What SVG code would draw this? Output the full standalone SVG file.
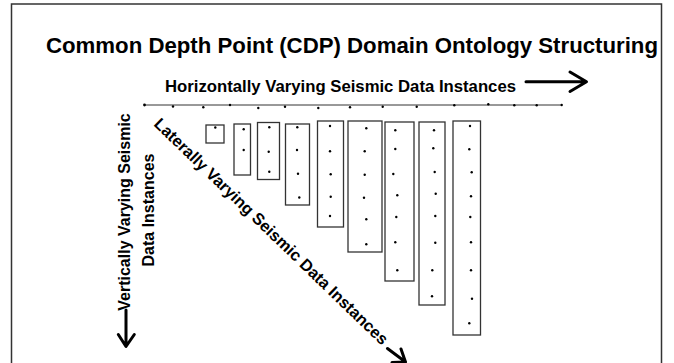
<svg xmlns="http://www.w3.org/2000/svg" width="674" height="363" viewBox="0 0 674 363">
<style>
.t{font-family:"Liberation Sans",Arial,sans-serif;font-weight:bold;fill:#000}
.box{fill:none;stroke:#333;stroke-width:1.3}
.dot{fill:#000}
.arr{fill:none;stroke:#000;stroke-width:3;stroke-linecap:round;stroke-linejoin:round}
</style>
<rect width="674" height="363" fill="#fff"/>
<rect x="11.5" y="4" width="650" height="380" fill="none" stroke="#333" stroke-width="1.5"/>
<g id="title"><text class="t" x="46" y="53" font-size="22" textLength="612" lengthAdjust="spacingAndGlyphs">Common Depth Point (CDP) Domain Ontology Structuring</text></g>
<g id="horizontal-label">
<text class="t" x="165" y="92" font-size="16.5" textLength="351" lengthAdjust="spacingAndGlyphs">Horizontally Varying Seismic Data Instances</text>
</g>
<g id="vertical-label">
<text class="t" font-size="16" text-anchor="middle" transform="translate(130,212) rotate(-90)">Vertically Varying Seismic</text>
<text class="t" font-size="16" text-anchor="middle" transform="translate(153.5,210) rotate(-90)">Data Instances</text>
</g>
<g id="lateral-label">
<text class="t" font-size="16.4" transform="translate(153,125) rotate(44)">Laterally Varying Seismic Data Instances</text>
</g>
<g id="connectors">
<path class="arr" d="M526 81.7H586M570 72L586.5 81.7L570 91.5"/>
<path class="arr" d="M126 310V346M118.3 334.5L126 346.5L134.3 334.5"/>
<path class="arr" d="M387.5 348.5L405.5 362M392 362.5L405.5 362L401 349"/>
<line x1="144" y1="105" x2="562" y2="105" stroke="#333" stroke-width="1"/>
</g>
<g id="axis-dots" class="dot">
<circle cx="144.5" cy="105" r="1.4"/><circle cx="173" cy="106.5" r="1.2"/><circle cx="203.3" cy="107.3" r="1.2"/><circle cx="230" cy="105" r="1.2"/><circle cx="258.3" cy="108" r="1.2"/><circle cx="285" cy="106.7" r="1.2"/><circle cx="318.3" cy="108" r="1.2"/><circle cx="350" cy="107.3" r="1.2"/><circle cx="382.7" cy="106.7" r="1.2"/><circle cx="416.7" cy="106.7" r="1.2"/><circle cx="454.3" cy="105.3" r="1.2"/><circle cx="488.3" cy="104.3" r="1.2"/><circle cx="514.3" cy="105.3" r="1.2"/><circle cx="536.7" cy="105.3" r="1.2"/><circle cx="561.7" cy="105" r="1.2"/>
</g>
<g id="box1"><rect class="box" x="206" y="125" width="18" height="18"/><circle class="dot" cx="215.3" cy="127.5" r="1.2"/></g>
<g id="box2"><rect class="box" x="234" y="124" width="16.5" height="51"/><circle class="dot" cx="243.7" cy="129.3" r="1.2"/><circle class="dot" cx="243.7" cy="150" r="1.2"/></g>
<g id="box3"><rect class="box" x="257.5" y="122.5" width="22" height="57"/><circle class="dot" cx="269.3" cy="127.3" r="1.2"/><circle class="dot" cx="268.7" cy="151.7" r="1.2"/><circle class="dot" cx="269.3" cy="171.7" r="1.2"/></g>
<g id="box4"><rect class="box" x="285.5" y="124" width="24" height="81"/><circle class="dot" cx="297.3" cy="127.3" r="1.2"/><circle class="dot" cx="297" cy="150" r="1.2"/><circle class="dot" cx="298" cy="173.7" r="1.2"/><circle class="dot" cx="299.3" cy="197.5" r="1.2"/></g>
<g id="box5"><rect class="box" x="317.5" y="121" width="26" height="106"/><circle class="dot" cx="330" cy="126" r="1.2"/><circle class="dot" cx="330" cy="151.3" r="1.2"/><circle class="dot" cx="330.7" cy="174.3" r="1.2"/><circle class="dot" cx="330.7" cy="196.7" r="1.2"/><circle class="dot" cx="330" cy="216" r="1.2"/></g>
<g id="box6"><rect class="box" x="348" y="121" width="34" height="131"/><circle class="dot" cx="366.3" cy="128.3" r="1.2"/><circle class="dot" cx="364.7" cy="151.3" r="1.2"/><circle class="dot" cx="364.7" cy="174.7" r="1.2"/><circle class="dot" cx="364" cy="197.7" r="1.2"/><circle class="dot" cx="366.3" cy="219.3" r="1.2"/><circle class="dot" cx="366.3" cy="244.3" r="1.2"/></g>
<g id="box7"><rect class="box" x="385" y="122" width="29" height="159"/><circle class="dot" cx="395.3" cy="130.3" r="1.2"/><circle class="dot" cx="395.3" cy="149" r="1.2"/><circle class="dot" cx="393.3" cy="174" r="1.2"/><circle class="dot" cx="397.3" cy="195.3" r="1.2"/><circle class="dot" cx="396.3" cy="217" r="1.2"/><circle class="dot" cx="395.3" cy="242.3" r="1.2"/><circle class="dot" cx="397.3" cy="270.3" r="1.2"/></g>
<g id="box8"><rect class="box" x="419" y="122" width="26" height="183"/><circle class="dot" cx="434" cy="130.3" r="1.2"/><circle class="dot" cx="433.3" cy="148.3" r="1.2"/><circle class="dot" cx="434.7" cy="172" r="1.2"/><circle class="dot" cx="435.7" cy="193.7" r="1.2"/><circle class="dot" cx="435.3" cy="216" r="1.2"/><circle class="dot" cx="435.3" cy="242.7" r="1.2"/><circle class="dot" cx="432.3" cy="270.3" r="1.2"/><circle class="dot" cx="432" cy="296.3" r="1.2"/></g>
<g id="box9"><rect class="box" x="453" y="121" width="27.5" height="214"/><circle class="dot" cx="470" cy="126" r="1.2"/><circle class="dot" cx="469.3" cy="149.3" r="1.2"/><circle class="dot" cx="471.7" cy="172.3" r="1.2"/><circle class="dot" cx="471" cy="196.3" r="1.2"/><circle class="dot" cx="470.3" cy="217" r="1.2"/><circle class="dot" cx="471" cy="242.3" r="1.2"/><circle class="dot" cx="471" cy="270.3" r="1.2"/><circle class="dot" cx="472" cy="298.7" r="1.2"/><circle class="dot" cx="469.3" cy="323.3" r="1.2"/></g>
</svg>
